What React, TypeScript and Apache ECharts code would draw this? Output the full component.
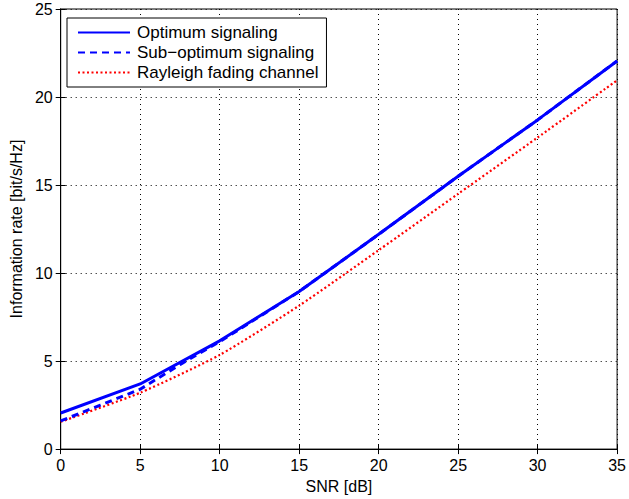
import React, { useEffect, useRef } from "react";
import * as echarts from "echarts";

const snrOpt = [0, 5, 10, 15, 20, 25, 30, 35];
const optimumRate = [2.05, 3.7, 6.15, 8.95, 12.2, 15.5, 18.7, 22.05];

const snrSub = [0, 2.5, 5, 7.5, 10, 15, 20, 25, 30, 35];
const subOptimumRate = [1.6, 2.5, 3.4, 4.8, 6.1, 8.95, 12.2, 15.5, 18.7, 22.05];

const snrRay = [0, 5, 10, 15, 20, 25, 30, 35];
const rayleighRate = [1.55, 3.2, 5.35, 8.15, 11.3, 14.5, 17.7, 20.95];

const seriesNames = ["Optimum signaling", "Sub\u2212optimum signaling", "Rayleigh fading channel"];
const xLabel = "SNR [dB]";
const yLabel = "Information rate [bit/s/Hz]";

const FONT = "'Liberation Sans', Arial, Helvetica, sans-serif";

export default function App() {
  const ref = useRef<HTMLDivElement>(null);
  useEffect(() => {
    if (!ref.current) return;
    const chart = echarts.init(ref.current, undefined, { renderer: "svg" });
    const zip = (xs: number[], ys: number[]) => xs.map((x, i) => [x, ys[i]]);
    const gridLine = { show: true, lineStyle: { color: "#000", width: 1, type: [1, 4] as any } };
    chart.setOption({
      animation: false,
      backgroundColor: "#fff",
      textStyle: { fontFamily: FONT },
      grid: { left: 59, right: 9, top: 9, bottom: 46, show: true, borderColor: "#000", borderWidth: 1 },
      legend: {
        orient: "vertical",
        left: 67,
        top: 18,
        itemWidth: 52,
        itemHeight: 14,
        itemGap: 3,
        padding: [6, 8, 6, 10],
        borderColor: "#000",
        borderWidth: 1,
        backgroundColor: "#fff",
        itemStyle: { opacity: 0 },
        textStyle: { fontSize: 17, color: "#000", fontFamily: FONT, padding: [0, 0, 0, 2] },
        data: seriesNames,
      },
      xAxis: [
        {
          type: "value",
          min: 0,
          max: 35,
          interval: 5,
          name: xLabel,
          nameLocation: "middle",
          nameGap: 26,
          nameTextStyle: { fontSize: 16, color: "#000", fontFamily: FONT },
          axisLine: { show: true, lineStyle: { color: "#000", width: 1 } },
          axisTick: { show: true, inside: true, length: 5, lineStyle: { color: "#000" } },
          axisLabel: { fontSize: 16, color: "#000", margin: 8, fontFamily: FONT },
          splitLine: gridLine,
        },
        {
          type: "value",
          position: "top",
          min: 0,
          max: 35,
          interval: 5,
          axisLine: { show: true, lineStyle: { color: "#000", width: 1 } },
          axisTick: { show: true, inside: true, length: 5, lineStyle: { color: "#000" } },
          axisLabel: { show: false },
          splitLine: { show: false },
        },
      ],
      yAxis: [
        {
          type: "value",
          min: 0,
          max: 25,
          interval: 5,
          name: yLabel,
          nameLocation: "middle",
          nameGap: 33,
          nameTextStyle: { fontSize: 16, color: "#000", fontFamily: FONT },
          axisLine: { show: true, lineStyle: { color: "#000", width: 1 } },
          axisTick: { show: true, inside: true, length: 5, lineStyle: { color: "#000" } },
          axisLabel: { fontSize: 16, color: "#000", margin: 8, fontFamily: FONT },
          splitLine: gridLine,
        },
        {
          type: "value",
          position: "right",
          min: 0,
          max: 25,
          interval: 5,
          axisLine: { show: true, lineStyle: { color: "#000", width: 1 } },
          axisTick: { show: true, inside: true, length: 5, lineStyle: { color: "#000" } },
          axisLabel: { show: false },
          splitLine: { show: false },
        },
      ],
      series: [
        {
          name: seriesNames[2],
          type: "line",
          data: zip(snrRay, rayleighRate),
          showSymbol: false,
          symbol: "none",
          smooth: 0.2,
          z: 2,
          itemStyle: { color: "#ff0000" },
          lineStyle: { color: "#ff0000", width: 2.2, type: [2, 2.5] },
        },
        {
          name: seriesNames[1],
          type: "line",
          data: zip(snrSub, subOptimumRate),
          showSymbol: false,
          symbol: "none",
          z: 3,
          itemStyle: { color: "#0000ff" },
          lineStyle: { color: "#0000ff", width: 3, type: [7, 5] },
        },
        {
          name: seriesNames[0],
          type: "line",
          data: zip(snrOpt, optimumRate),
          showSymbol: false,
          symbol: "none",
          z: 4,
          itemStyle: { color: "#0000ff" },
          lineStyle: { color: "#0000ff", width: 3, type: "solid" },
        },
      ],
    });
    return () => chart.dispose();
  }, []);
  return <div ref={ref} style={{ width: 629, height: 499, position: "absolute", left: 0, top: 0 }} />;
}
